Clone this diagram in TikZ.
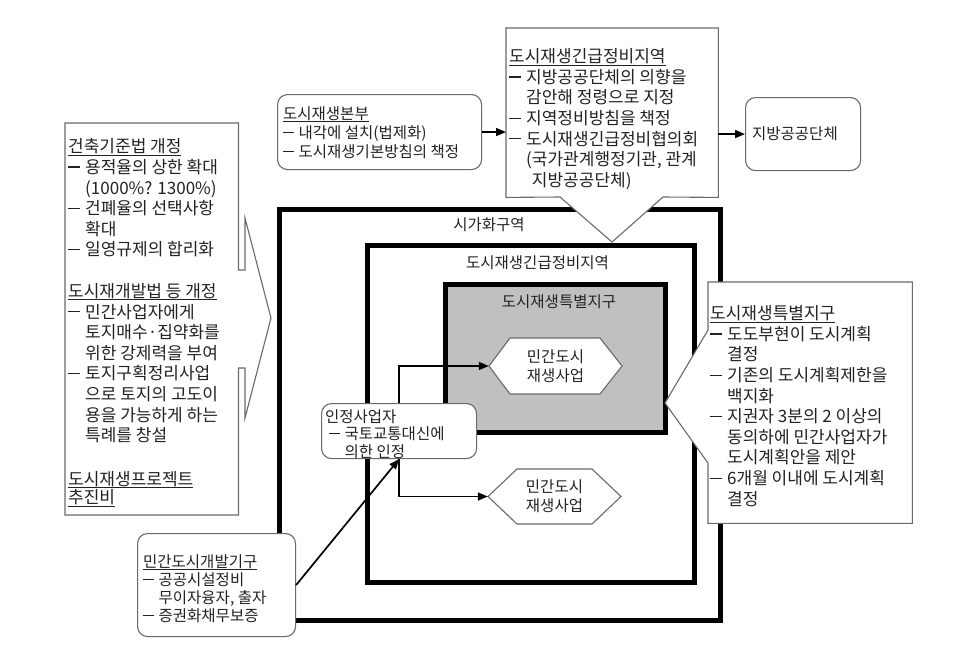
\documentclass[tikz,border=0pt]{standalone}
\usepackage{fontspec}
\setmainfont{Noto Sans CJK KR}
\usetikzlibrary{arrows.meta}
\definecolor{ol}{HTML}{6A6A6A}
\definecolor{grayfill}{HTML}{C0C0C0}
\definecolor{txt}{HTML}{222222}
\newcommand\dsh{\makebox[1em][l]{\rule[0.34em]{0.72em}{0.07em}}}
\newcommand\ind{\hspace*{1em}}
\newcommand\ulx[1]{\setbox0\hbox{#1}\rlap{\rule[-2.8pt]{\wd0}{0.8pt}}\box0}
\begin{document}
\begin{tikzpicture}[x=1pt,y=-1pt,
  thinline/.style={draw=ol,line width=1.1pt},
  frame/.style={draw=black,line width=4.5pt,inner sep=0pt,anchor=north west},
  bigtext/.style={font=\fontsize{17}{20.6}\selectfont,text=txt,align=left,inner sep=0pt,anchor=north west,
    execute at begin node={\rule{0pt}{1em}}},
  smalltext/.style={font=\fontsize{15.5}{18}\selectfont,text=txt,align=left,inner sep=0pt,anchor=north west,
    execute at begin node={\rule{0pt}{1em}}},
  lab/.style={font=\fontsize{15.5}{19}\selectfont,text=txt,inner sep=0pt,align=center},
  rbox/.style={thinline,rounded corners=10pt,fill=white,inner sep=0pt,anchor=north west},
  hole/.style={inner sep=0pt,anchor=north west},
  arr/.style={draw=black,line width=1.7pt,-{Triangle[length=10pt,width=8pt]}}]
\fill[white] (0,0) rectangle (962,649);
\useasboundingbox (0,0) rectangle (962,649);

% nested areas
\node[frame,minimum width=441pt,minimum height=411pt] (urban) at (277,207) {};
\node[frame,minimum width=327pt,minimum height=337pt] (urgent) at (365,243) {};
\node[frame,fill=grayfill,minimum width=220pt,minimum height=148pt] (special) at (443,282) {};
\node[lab] (urbanlab) at (489,225) {시가화구역};
\node[lab] (urgentlab) at (537.5,263) {도시재생긴급정비지역};
\node[lab] (speciallab) at (559,302) {도시재생특별지구};

% hexagons
\path[thinline,fill=white] (489,366) -- (510,338) -- (600,338) -- (622,366) -- (600,394) -- (510,394) -- cycle;
\node[lab,minimum width=133pt,minimum height=56pt] (p1) at (555.5,366) {민간도시\\재생사업};
\path[thinline,fill=white] (488,496.5) -- (517,469) -- (592,469) -- (621,496.5) -- (592,524) -- (517,524) -- cycle;
\node[lab,minimum width=133pt,minimum height=55pt] (p2) at (554.5,496.5) {민간도시\\재생사업};

% certified operator box
\node[rbox,minimum width=155pt,minimum height=55pt] (cert) at (321,403) {};
\node[smalltext,font=\fontsize{15.5}{17.5}\selectfont] (certtext) at (325,409)
 {인정사업자\\\hspace*{4pt}\dsh 국토교통대신에\\\hspace*{4pt}\ind 의한 인정};

% right callout
\node[hole,minimum width=204pt,minimum height=241pt] (spbox) at (708,282) {};
\path[thinline,fill=white] (spbox.north west) -- (spbox.north east) -- (spbox.south east) -- (spbox.south west)
  -- (708,463) -- (665,403) -- (708,330) -- cycle;
\node[bigtext] (sptext) at (710,305.5)
 {\ulx{도시재생특별지구}\\
  \dsh 도도부현이 도시계획\\
  \ind 결정\\
  \dsh 기존의 도시계획제한을\\
  \ind 백지화\\
  \dsh 지권자 3분의 2 이상의\\
  \ind 동의하에 민간사업자가\\
  \ind 도시계획안을 제안\\
  \dsh 6개월 이내에 도시계획\\
  \ind 결정};

% top callout
\node[hole,minimum width=212pt,minimum height=169pt] (zone) at (506,28) {};
\path[thinline,fill=white] (zone.north west) -- (zone.north east) -- (zone.south east)
  -- (663,197) -- (612,242) -- (560,197) -- (zone.south west) -- cycle;
\node[bigtext] (zonetext) at (509,48.5)
 {\ulx{도시재생긴급정비지역}\\
  \dsh 지방공공단체의 의향을\\
  \ind 감안해 정령으로 지정\\
  \dsh 지역정비방침을 책정\\
  \dsh 도시재생긴급정비협의회\\
  \ind(국가관계행정기관, 관계\\
  \ind\phantom{(}지방공공단체)};

% left callout
\path[thinline,fill=white] (65,123) -- (238.5,123) -- (238.5,270) -- (245,270) -- (245,218) -- (271,318)
  -- (245,418) -- (245,368) -- (238.5,368) -- (238.5,515) -- (65,515) -- cycle;
\node[bigtext] (lawtext) at (68,138.5)
 {\ulx{건축기준법 개정}\\
  \dsh 용적율의 상한 확대\\
  \ind(1000\%? 1300\%)\\
  \dsh 건폐율의 선택사항\\
  \ind 확대\\
  \dsh 일영규제의 합리화\\[21pt]
  \ulx{도시재개발법 등 개정}\\
  \dsh 민간사업자에게\\
  \ind 토지매수·집약화를\\
  \ind 위한 강제력을 부여\\
  \dsh 토지구획정리사업\\
  \ind 으로 토지의 고도이\\
  \ind 용을 가능하게 하는\\
  \ind 특례를 창설\\[23pt]
  \ulx{도시재생프로젝트}\\[-2pt]
  \ulx{추진비}};

% headquarters box
\node[rbox,minimum width=204pt,minimum height=75pt] (hq) at (277,94) {};
\node[smalltext,font=\fontsize{15.5}{19}\selectfont] (hqtext) at (283,106.4)
 {\ulx{도시재생본부}\\
  \dsh 내각에 설치(법제화)\\
  \dsh 도시재생기본방침의 책정};

% local government box
\node[rbox,minimum width=115pt,minimum height=73pt] (loc) at (745,97) {};
\node[font=\fontsize{15.5}{18}\selectfont,text=txt,inner sep=0pt,anchor=base west] (loctext) at (752,139) {지방공공단체};

% private development organisation box
\node[rbox,minimum width=158pt,minimum height=103pt] (dev) at (137,533) {};
\node[smalltext] (devtext) at (143,554.4)
 {\ulx{민간도시개발기구}\\
  \dsh 공공시설정비\\
  \ind 무이자융자, 출자\\
  \dsh 증권화채무보증};

% connectors
\draw[arr] (hq.east) -- (hq.east -| zone.west);
\draw[arr] (zone.east |- loc.west) -- (loc.west);
\draw[arr] (cert.north) |- (p1.west);
\draw[arr] (cert.south) |- (p2.west);
\draw[arr] (dev.east) -- (cert.south);
\end{tikzpicture}
\end{document}
